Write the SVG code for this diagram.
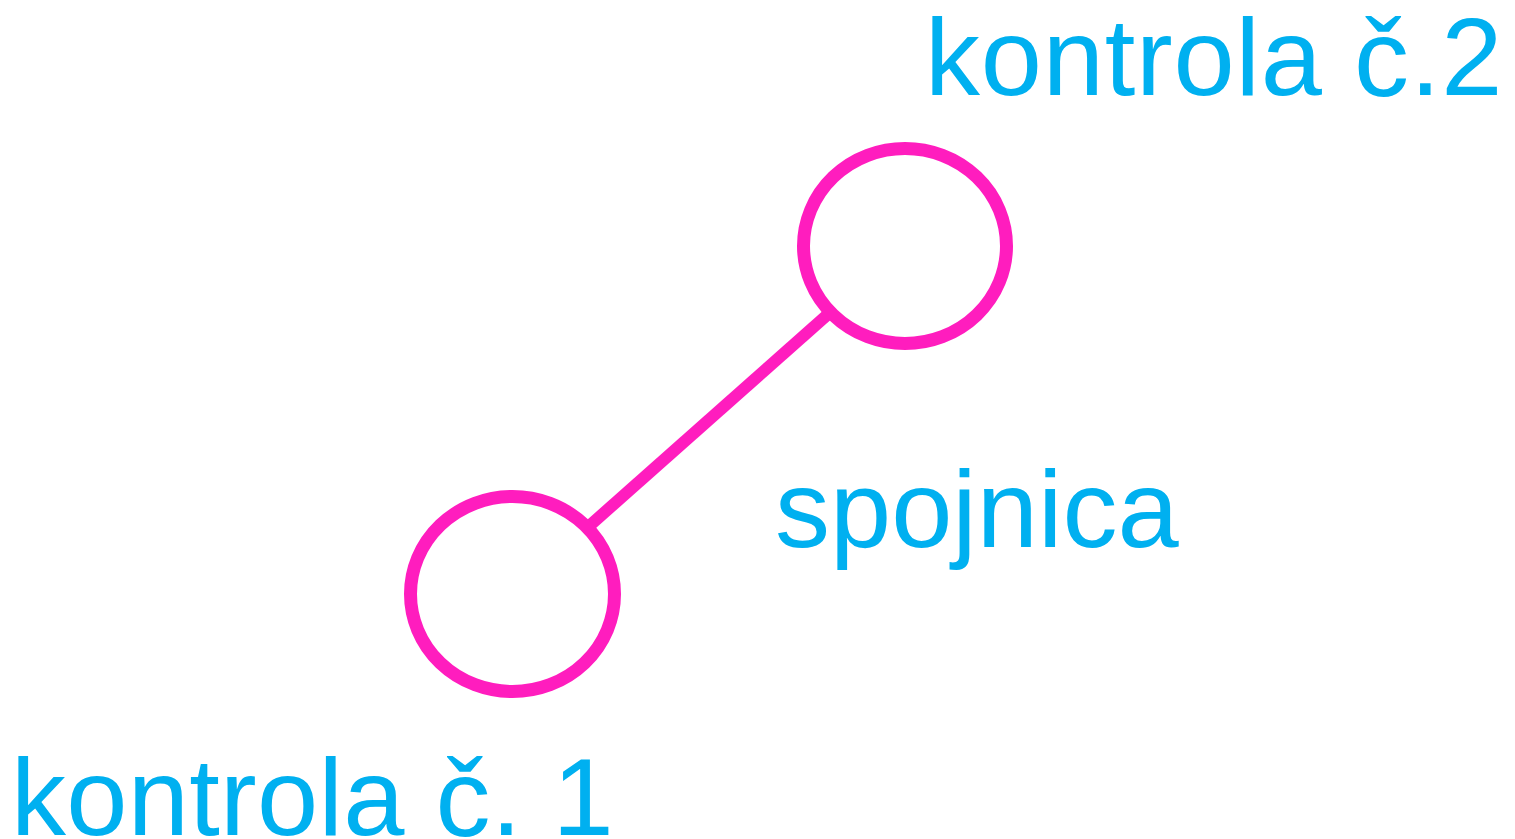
<svg xmlns="http://www.w3.org/2000/svg" width="1515" height="839" viewBox="0 0 1515 839">
<style>
.lbl{font-family:"Liberation Sans",Arial,sans-serif;font-size:110px;fill:#00B0F0}
.node{fill:#FFFFFF;stroke:#FF1DBE;stroke-width:13}
.conn{stroke:#FF1DBE;stroke-width:12;fill:none}
</style>
<rect width="1515" height="839" fill="#FFFFFF"/>
<g id="connectors">
<line class="conn" x1="512.5" y1="594" x2="905" y2="246"/>
</g>
<g id="node-kontrola-2">
<ellipse class="node" cx="905" cy="246" rx="101.5" ry="97.5"/>
<text class="lbl" x="925" y="95" letter-spacing="0.8">kontrola č.2</text>
</g>
<g id="node-kontrola-1">
<ellipse class="node" cx="512.5" cy="594" rx="102" ry="97.5"/>
<text class="lbl" x="11" y="835" letter-spacing="0.3">kontrola č. 1</text>
</g>
<g id="label-spojnica">
<text class="lbl" x="775" y="547">spojnica</text>
</g>
</svg>
